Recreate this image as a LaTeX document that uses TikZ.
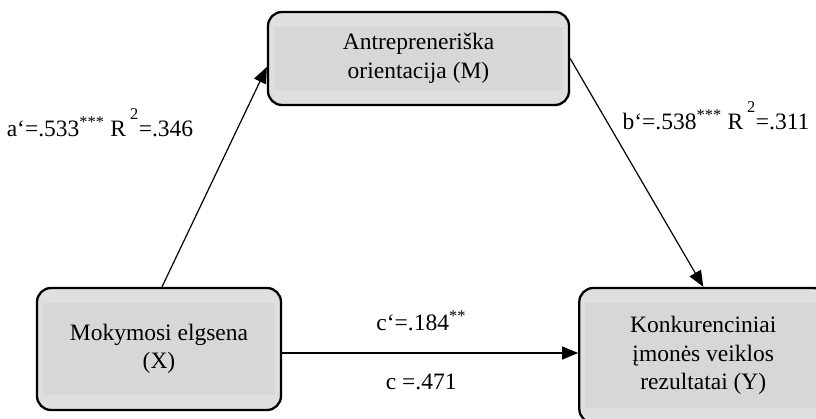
\documentclass[tikz,border=0pt]{standalone}
\usepackage{fontspec}
\setmainfont{Liberation Serif}
\usetikzlibrary{arrows.meta,positioning}
\definecolor{boxout}{RGB}{222,223,224}
\definecolor{boxin}{RGB}{215,215,215}

\begin{document}
\begin{tikzpicture}[x=1pt,y=-1pt,>={Triangle[length=16pt,width=13pt]},
  box/.style={draw,line width=2.3pt,rounded corners=14pt,fill=boxout,align=center,
    font=\fontsize{23.5}{28.5}\selectfont,
    path picture={\fill[boxin,sharp corners] ([shift={(6pt,15pt)}]path picture bounding box.south west)
      rectangle ([shift={(-6pt,-15pt)}]path picture bounding box.north east);}},
  lab/.style={font=\fontsize{23.5}{28.5}\selectfont,text height=16pt,text depth=5pt},
  link/.style={->,line width=1.2pt}]
\useasboundingbox (0,0) rectangle (816,419);
\node[box,minimum width=301pt,minimum height=93pt] (M) at (418.5,58.5) {Antrepreneriška\\orientacija (M)};
\node[box,minimum width=244pt,minimum height=122pt] (X) at (159,349) {Mokymosi elgsena\\(X)};
\node[box,minimum width=248pt,minimum height=135pt,right=296pt of X.north east,anchor=north west] (Y)
  {Konkurenciniai\\įmonės veiklos\\rezultatai (Y)};
\node[lab] (ab) at (100,131) {a‘=.533\textsuperscript{***} R\,\raisebox{.35em}{\textsuperscript{2}}=.346};
\node[lab] (bb) at (716,124) {b‘=.538\textsuperscript{***} R\,\raisebox{.35em}{\textsuperscript{2}}=.311};
\coordinate (cs) at ([yshift=-4pt]X.east);
\draw[link] ([xshift=3pt]X.north) -- ([yshift=-8.5pt]M.west);
\draw[link] (M.east) -- (Y.north);
\draw[link] (cs) -- node[pos=.47,lab,above=14pt] (cp) {c‘=.184\textsuperscript{**}}
  node[pos=.47,lab,below=17pt] (ct) {c =.471} (cs -| Y.west);
\end{tikzpicture}
\end{document}
